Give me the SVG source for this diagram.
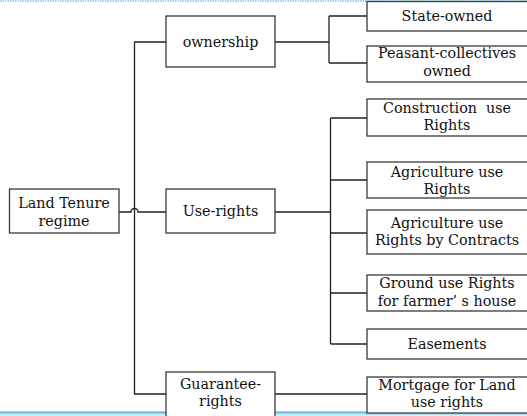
<svg xmlns="http://www.w3.org/2000/svg" width="527" height="416" viewBox="0 0 527 416">
<style>
.box{fill:#fff;stroke:#3a3a3a;stroke-width:1.3}
.lbl{font-family:"DejaVu Serif",serif;font-size:14.3px;fill:#111;text-anchor:middle}
.con{fill:none;stroke:#222;stroke-width:1.3}
</style>
<rect width="527" height="416" fill="#fff"/>
<line x1="0" y1="1" x2="527" y2="1" stroke="#9fd3ef" stroke-width="2" stroke-dasharray="1.5 1"/>
<line x1="0" y1="412.5" x2="527" y2="412.5" stroke="#5fb4d6" stroke-width="2"/>
<line x1="0" y1="414.5" x2="527" y2="414.5" stroke="#b8e0ee" stroke-width="2"/>
<g id="connectors">
<path class="con" d="M166,42 H134.5 V394 H166"/>
<path class="con" d="M119,212 H131 a3.5,3.5 0 0 1 7,0 H166"/>
<path class="con" d="M275,42 H329 M329,16 V63 M329,16 H367 M329,63 H367"/>
<path class="con" d="M275,212 H330.5 M330.5,118 V344 M330.5,118 H367 M330.5,180 H367 M330.5,233 H367 M330.5,293 H367 M330.5,344 H367"/>
<path class="con" d="M275,394 H367"/>
</g>
<g id="land-tenure"><rect class="box" x="9.5" y="189" width="109.5" height="44"/><text class="lbl" x="64" y="208">Land Tenure</text><text class="lbl" x="64" y="226">regime</text></g>
<g id="ownership"><rect class="box" x="166" y="16" width="109" height="51"/><text class="lbl" x="220.5" y="47">ownership</text></g>
<g id="use-rights"><rect class="box" x="166" y="189" width="109" height="44"/><text class="lbl" x="220.5" y="216">Use-rights</text></g>
<g id="guarantee-rights"><rect class="box" x="166" y="372" width="109" height="50"/><text class="lbl" x="220.5" y="389">Guarantee-</text><text class="lbl" x="220.5" y="406">rights</text></g>
<g id="state-owned"><rect class="box" x="367" y="1.5" width="162" height="29.5"/><text class="lbl" x="447" y="21">State-owned</text></g>
<g id="peasant"><rect class="box" x="367" y="46" width="162" height="36"/><text class="lbl" x="447" y="58">Peasant-collectives</text><text class="lbl" x="447" y="76">owned</text></g>
<g id="construction"><rect class="box" x="367" y="99" width="162" height="37"/><text class="lbl" x="447" y="113" xml:space="preserve">Construction  use</text><text class="lbl" x="447" y="130">Rights</text></g>
<g id="agriculture"><rect class="box" x="367" y="162" width="162" height="36"/><text class="lbl" x="447" y="177">Agriculture use</text><text class="lbl" x="447" y="194">Rights</text></g>
<g id="agri-contracts"><rect class="box" x="367" y="210" width="162" height="44"/><text class="lbl" x="447" y="228">Agriculture use</text><text class="lbl" x="447" y="245">Rights by Contracts</text></g>
<g id="ground"><rect class="box" x="367" y="275" width="162" height="36"/><text class="lbl" x="447" y="288">Ground use Rights</text><text class="lbl" x="447" y="306">for farmer’ s house</text></g>
<g id="easements"><rect class="box" x="367" y="329" width="162" height="30"/><text class="lbl" x="447" y="349">Easements</text></g>
<g id="mortgage"><rect class="box" x="367" y="377" width="162" height="36"/><text class="lbl" x="447" y="390">Mortgage for Land</text><text class="lbl" x="447" y="407">use rights</text></g>
</svg>
